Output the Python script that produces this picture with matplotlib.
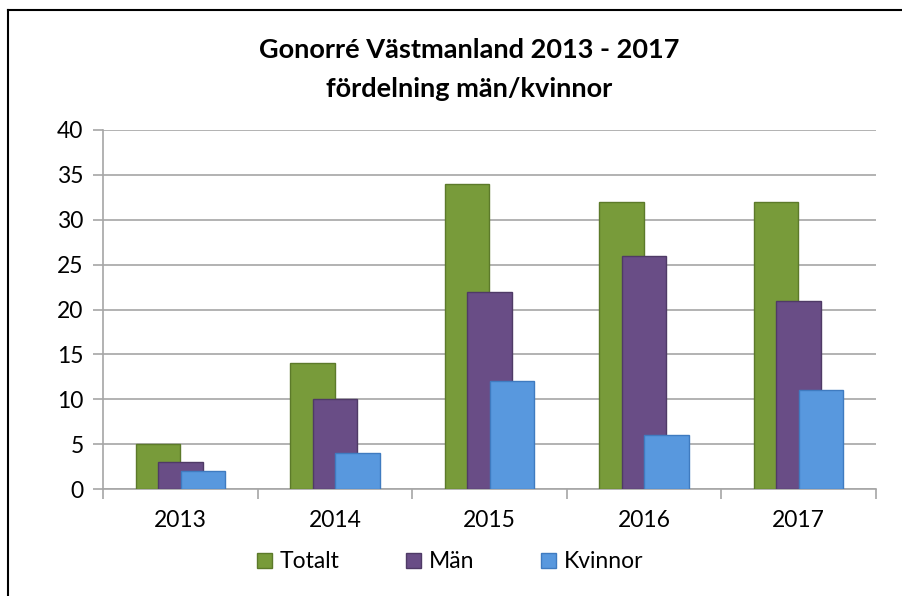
import matplotlib
matplotlib.use("Agg")
import matplotlib.pyplot as plt
import numpy as np
from matplotlib.lines import Line2D
from matplotlib.patches import Patch

years = ["2013", "2014", "2015", "2016", "2017"]
totalt = [5, 14, 34, 32, 32]
man = [3, 10, 22, 26, 21]
kvinnor = [2, 4, 12, 6, 11]
series_names = ["Totalt", "Män", "Kvinnor"]
colors = ["#789B3A", "#694D86", "#5898DE"]
edges = ["#5C7A2A", "#4F3A66", "#3F7BC0"]

plt.rcParams['font.family'] = ['Lato', 'DejaVu Sans']

fig = plt.figure(figsize=(9.03, 5.96), dpi=100)
W, H = 903, 596
ax = fig.add_axes([103 / W, 1 - 489 / H, (876 - 103) / W, (489 - 130) / H])

x = np.arange(len(years))
bw = 0.288
off = 0.1455
for i, (vals, c, e) in enumerate(zip([totalt, man, kvinnor], colors, edges)):
    ax.bar(x + (i - 1) * off, vals, width=bw, color=c, edgecolor=e, linewidth=1.0, zorder=3 + i)

ax.set_xlim(-0.5, len(years) - 0.5)
ax.set_ylim(0, 40)
ax.set_yticks(np.arange(0, 41, 5))
ax.yaxis.grid(True, color="#A6A6A6", linewidth=1.2, zorder=0)
ax.set_axisbelow(True)
for s in ["top", "right"]:
    ax.spines[s].set_visible(False)
ax.spines["left"].set_color("#A6A6A6")
ax.spines["bottom"].set_color("#A6A6A6")
ax.spines["left"].set_linewidth(1.2)
ax.spines["bottom"].set_linewidth(1.2)

ax.set_xticks(x)
ax.set_xticklabels(years)
ax.set_xticks(np.arange(-0.5, len(years), 1), minor=True)
ax.tick_params(axis="x", which="major", length=0, labelsize=16.5, pad=15)
ax.tick_params(axis="x", which="minor", length=7, color="#A6A6A6", width=1.2)
ax.tick_params(axis="y", length=7, color="#A6A6A6", width=1.2, labelsize=16.5, pad=7)

fig.text(469 / W, 1 - 50 / H, "Gonorré Västmanland 2013 - 2017", ha="center", va="center",
         fontsize=19.5, fontweight="bold")
fig.text(469 / W, 1 - 89 / H, "fördelning män/kvinnor", ha="center", va="center",
         fontsize=19.5, fontweight="bold")

handles = [Patch(facecolor=c, edgecolor=e) for c, e in zip(colors, edges)]
fig.legend(handles, series_names, loc="center", bbox_to_anchor=(450 / W, 1 - 562 / H),
           ncol=3, frameon=False, fontsize=16.5, handlelength=0.65, handleheight=0.65,
           handletextpad=0.35, columnspacing=2.9)

fig.add_artist(Line2D([8 / W, 1], [1 - 10 / H, 1 - 10 / H], color="black", linewidth=1.5))
fig.add_artist(Line2D([8 / W, 8 / W], [0, 1 - 10 / H], color="black", linewidth=1.5))

fig.savefig("out.png", dpi=100)
